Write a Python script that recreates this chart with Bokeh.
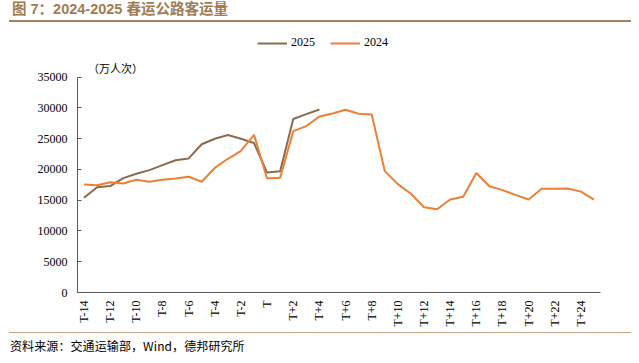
from bokeh.plotting import figure
from bokeh.layouts import column
from bokeh.models import (Label, Range1d, FixedTicker, NumeralTickFormatter, Div,
                          Legend, LegendItem, ColumnDataSource)
from bokeh.embed import file_html
from bokeh.resources import INLINE
import math

categories = (["T-%d" % i for i in range(14, 0, -1)] + ["T"] +
              ["T+%d" % i for i in range(1, 26)])

v2025 = [15400, 17100, 17300, 18600, 19300, 19900, 20700, 21500, 21800, 24100,
         25000, 25600, 25000, 24300, 19500, 19700, 28200, 29000, 29750]

v2024 = [17560, 17450, 17940, 17720, 18320, 18000, 18320, 18540, 18810, 18000,
         20250, 21740, 23040, 25640, 18540, 18650, 26230, 27040, 28620, 29100,
         29700, 29050, 28950, 19730, 17620, 16050, 13870, 13540, 15120, 15580,
         19430, 17270, 16650, 15880, 15120, 16860, 16860, 16900, 16400, 15100]

y_ticks = [0, 5000, 10000, 15000, 20000, 25000, 30000, 35000]
series_names = ["2025", "2024"]

title_text = "图 7：2024-2025 春运公路客运量"
unit_text = "（万人次）"
source_text = "资料来源：交通运输部，Wind，德邦研究所"

C25 = "#8E6A4C"
C24 = "#EE7F33"
TITLE_C = "#A27B53"
CJK = "Noto Sans CJK SC"
SERIF = "Liberation Serif"
SANS = "Liberation Sans"

W = 631
FIG_H = 308          # figure spans page y 22..330
Y_TOP = 42920        # frame top (page y 28) in data units

# ---------- title block ----------
title_html = (
    '<div style="position:relative;width:631px;height:22px;overflow:visible;">'
    f'<div style="position:absolute;left:12px;top:1px;height:17px;line-height:17px;'
    f'white-space:nowrap;color:{TITLE_C};font-weight:bold;font-size:14.5px;'
    f'font-family:\'{SANS}\',\'{CJK}\';">{title_text}</div>'
    '<div style="position:absolute;left:9px;top:20.4px;width:622px;height:1.6px;'
    'background:#A58260;"></div></div>'
)
title_div = Div(text=title_html, width=W, height=22, margin=(0, 0, 0, 0))

# ---------- chart ----------
idx = list(range(len(categories)))
p = figure(width=W, height=FIG_H, x_range=Range1d(-0.5, len(categories) - 0.5),
           y_range=Range1d(0, Y_TOP), output_backend="svg", toolbar_location=None,
           min_border_left=77, min_border_right=31, min_border_top=6, min_border_bottom=38,
           margin=(0, 0, 0, 0))
p.outline_line_color = None
p.xgrid.grid_line_color = None
p.ygrid.grid_line_color = None
p.background_fill_color = "white"
p.border_fill_color = "white"

src25 = ColumnDataSource(dict(x=idx[:len(v2025)], y=v2025))
src24 = ColumnDataSource(dict(x=idx, y=v2024))
r25 = p.line("x", "y", source=src25, line_color=C25, line_width=2)
r24 = p.line("x", "y", source=src24, line_color=C24, line_width=2)

# y axis
p.yaxis.ticker = FixedTicker(ticks=y_ticks)
p.yaxis.bounds = (y_ticks[0], y_ticks[-1])
p.yaxis.formatter = NumeralTickFormatter(format="0")
p.yaxis.major_label_text_font = SERIF
p.yaxis.major_label_text_font_size = "12px"
p.yaxis.major_label_text_color = "black"
p.yaxis.axis_line_color = "#595959"
p.yaxis.major_tick_line_color = "#595959"
p.yaxis.major_tick_out = 0
p.yaxis.major_tick_in = 4
p.yaxis.minor_tick_line_color = None
p.yaxis.major_label_standoff = 10

# x axis
p.xaxis.ticker = FixedTicker(ticks=idx[::2])
p.xaxis.major_label_overrides = {i: categories[i] for i in idx[::2]}
p.xaxis.axis_line_color = "#595959"
p.xaxis.major_tick_line_color = None
p.xaxis.major_tick_out = 0
p.xaxis.major_tick_in = 0
p.xaxis.minor_tick_line_color = None
p.xaxis.major_label_orientation = math.pi / 2
p.xaxis.major_label_text_font = SERIF
p.xaxis.major_label_text_font_size = "12px"
p.xaxis.major_label_text_color = "black"
p.xaxis.major_label_standoff = 8

# legend (screen position relative to the frame's bottom-left corner)
legend = Legend(items=[LegendItem(label=series_names[0], renderers=[r25]),
                       LegendItem(label=series_names[1], renderers=[r24])],
                orientation="horizontal", location=(180, 241.7),
                border_line_color=None, background_fill_alpha=0,
                label_text_font=SERIF, label_text_font_size="12px", label_text_color="black",
                glyph_width=30, glyph_height=14, label_height=14, label_standoff=4,
                spacing=15, padding=0, margin=0)
p.add_layout(legend, "center")

# unit label
p.add_layout(Label(x=38, y=225, x_units="screen", y_units="screen", text=unit_text,
                   text_font=CJK, text_font_size="11px", text_color="black",
                   text_baseline="middle", text_align="center"))

# ---------- source block ----------
source_html = (
    '<div style="position:relative;width:631px;height:25px;">'
    '<div style="position:absolute;left:9px;top:1.5px;width:622px;height:1.6px;'
    'background:#C4A586;"></div>'
    f'<div style="position:absolute;left:10px;top:8.8px;line-height:14px;white-space:nowrap;'
    f'font-family:\'{CJK}\';font-size:12px;letter-spacing:0.1px;color:black;">{source_text}</div>'
    '</div>'
)
source_div = Div(text=source_html, width=W, height=25, margin=(0, 0, 0, 0))

layout = column(title_div, p, source_div, spacing=0)
open("out.html", "w").write(file_html(layout, INLINE))
